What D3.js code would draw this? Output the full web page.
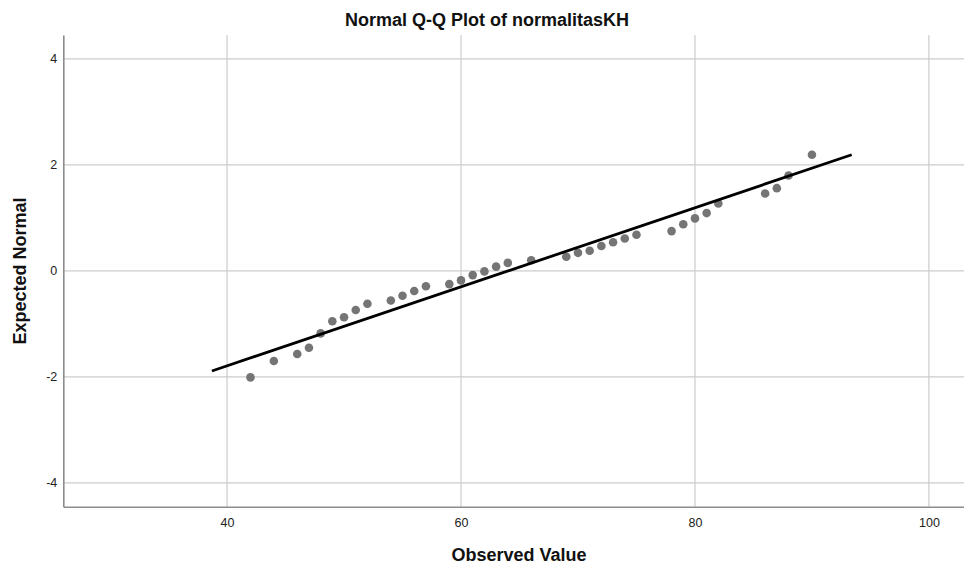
<!DOCTYPE html>
<html>
<head>
<meta charset="utf-8">
<script src="https://cdn.jsdelivr.net/npm/d3@7"></script>
<style>
    body { margin: 0; background: #fff; }
    svg { display: block; font-family: "Liberation Sans", Arial, sans-serif; }
</style>
</head>
<body>
<div class="qq"></div>
<script>
// observed values and their expected normal scores
const observed = [42, 44, 46, 47, 48, 49, 50, 51, 52, 54, 55, 56, 57, 59, 60, 61, 62, 63, 64, 66,
    69, 70, 71, 72, 73, 74, 75, 78, 79, 80, 81, 82, 86, 87, 88, 90];
const expected = [-2.01, -1.70, -1.57, -1.45, -1.18, -0.95, -0.875, -0.74, -0.62, -0.56, -0.47, -0.38, -0.29,
    -0.25, -0.18, -0.08, -0.01, 0.08, 0.15, 0.20, 0.265, 0.34, 0.38, 0.47, 0.54, 0.61, 0.68,
    0.75, 0.88, 0.99, 1.09, 1.27, 1.46, 1.56, 1.80, 2.19];
// reference line end points
const lineX = [38.7, 93.4];
const lineY = [-1.89, 2.19];
const xTicks = [40, 60, 80, 100];
const yTicks = [-4, -2, 0, 2, 4];

let svgW = 964,
    svgH = 567,
    plotLeft = 63.3,
    plotRight = 964,
    plotTop = 35,
    plotBottom = 506.7;

const x = d3.scaleLinear().domain([26, 103]).range([plotLeft, plotRight]);
const y = d3.scaleLinear().domain([-4.45, 4.45]).range([plotBottom, plotTop]);

const svg = d3.select(".qq")
    .append("svg")
    .attr("width", svgW)
    .attr("height", svgH);

// grid
svg.append("g")
    .selectAll("line")
    .data(xTicks)
    .enter()
    .append("line")
    .attr("x1", d => x(d)).attr("x2", d => x(d))
    .attr("y1", plotTop).attr("y2", plotBottom)
    .attr("stroke", "#cccccc")
    .attr("stroke-width", 1.2);

svg.append("g")
    .selectAll("line")
    .data(yTicks)
    .enter()
    .append("line")
    .attr("x1", plotLeft).attr("x2", plotRight)
    .attr("y1", d => y(d)).attr("y2", d => y(d))
    .attr("stroke", "#cccccc")
    .attr("stroke-width", 1.2);

// axes
const xAxis = svg.append("g")
    .attr("transform", `translate(0,${plotBottom})`)
    .call(d3.axisBottom(x).tickValues(xTicks).tickSize(0).tickPadding(11));
const yAxis = svg.append("g")
    .attr("transform", `translate(${plotLeft},0)`)
    .call(d3.axisLeft(y).tickValues(yTicks).tickSize(0).tickPadding(6).tickFormat(d3.format("d")));

[xAxis, yAxis].forEach(a => {
    a.select(".domain").attr("stroke", "#8c8c8c").attr("stroke-width", 1.6);
    a.selectAll("text")
        .attr("font-family", "Liberation Sans, Arial, sans-serif")
        .attr("font-size", 12.5)
        .attr("fill", "#222");
});
yAxis.selectAll("text").text(d => d < 0 ? "-" + Math.abs(d) : d);

// points
svg.append("g")
    .selectAll("circle")
    .data(observed)
    .enter()
    .append("circle")
    .attr("cx", d => x(d))
    .attr("cy", (d, i) => y(expected[i]))
    .attr("r", 4.3)
    .attr("fill", "#757575");

// reference line
svg.append("line")
    .attr("x1", x(lineX[0])).attr("y1", y(lineY[0]))
    .attr("x2", x(lineX[1])).attr("y2", y(lineY[1]))
    .attr("stroke", "#000")
    .attr("stroke-width", 2.8);

// titles
svg.append("text")
    .attr("x", 487)
    .attr("y", 26)
    .attr("text-anchor", "middle")
    .attr("font-size", 18)
    .attr("font-weight", "bold")
    .attr("fill", "#111")
    .text("Normal Q-Q Plot of normalitasKH");

svg.append("text")
    .attr("x", 519)
    .attr("y", 561)
    .attr("text-anchor", "middle")
    .attr("font-size", 18)
    .attr("font-weight", "bold")
    .attr("fill", "#111")
    .text("Observed Value");

svg.append("text")
    .attr("transform", "translate(26,271) rotate(-90)")
    .attr("text-anchor", "middle")
    .attr("font-size", 18)
    .attr("font-weight", "bold")
    .attr("fill", "#111")
    .text("Expected Normal");
</script>
</body>
</html>
